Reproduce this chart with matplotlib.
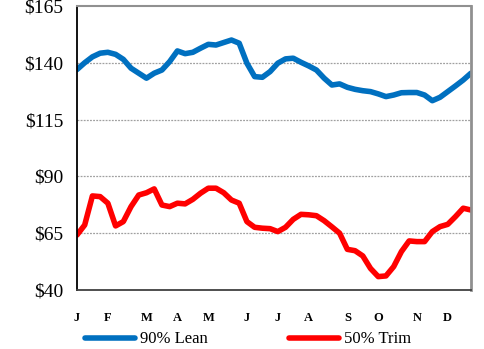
import matplotlib
matplotlib.use("Agg")
import matplotlib.pyplot as plt
import numpy as np

# weekly prices, 52 weeks
lean_90 = [137.0, 140.0, 142.6, 144.2, 144.6, 143.7, 141.5, 137.6, 135.4, 133.2,
           135.4, 136.8, 140.5, 145.2, 144.0, 144.6, 146.4, 148.1, 147.8, 148.9,
           150.0, 148.6, 139.8, 133.9, 133.6, 136.1, 139.8, 141.7, 142.0, 140.2,
           138.6, 136.8, 133.2, 130.2, 130.7, 129.2, 128.3, 127.7, 127.3, 126.3,
           125.1, 125.8, 126.8, 126.9, 126.9, 125.8, 123.3, 124.8, 127.3, 129.8,
           132.4, 135.4]
trim_50 = [64.2, 68.6, 81.4, 81.1, 78.2, 68.2, 70.1, 76.7, 81.8, 82.8,
           84.5, 77.4, 76.7, 78.2, 77.9, 79.9, 82.6, 84.8, 84.8, 82.8,
           79.6, 78.2, 70.1, 67.6, 67.2, 67.0, 65.7, 67.6, 71.1, 73.3,
           73.1, 72.7, 70.5, 67.8, 65.0, 57.9, 57.3, 55.0, 49.5, 45.9,
           46.2, 50.3, 56.9, 61.6, 61.3, 61.3, 65.7, 67.9, 68.9, 72.3,
           76.0, 75.2]
month_labels = ["J", "F", "M", "A", "M", "J", "J", "A", "S", "O", "N", "D"]
month_weeks = [0, 4, 9, 13, 17, 22, 26, 30, 35, 39, 44, 48]
y_ticks = [40, 65, 90, 115, 140, 165]

plt.rcParams['font.family'] = ['Liberation Serif', 'DejaVu Serif']

fig = plt.figure(figsize=(4.84, 3.49), dpi=100)
ax = fig.add_axes([0.159, 0.169, 0.814, 0.814])

weeks = np.arange(len(lean_90))
ax.plot(weeks, lean_90, color='#0070C0', lw=4, solid_capstyle='round',
        solid_joinstyle='round', label='90% Lean')
ax.plot(weeks, trim_50, color='#FF0000', lw=4, solid_capstyle='round',
        solid_joinstyle='round', label='50% Trim')

ax.set_xlim(0, len(lean_90) - 1)
ax.set_ylim(40, 165)
ax.set_yticks(y_ticks)
ax.set_yticklabels(['$%d' % v for v in y_ticks], fontsize=14)
ax.set_xticks(month_weeks)
ax.set_xticklabels(month_labels, fontsize=9, fontweight='bold')
ax.tick_params(axis='both', length=0)
ax.tick_params(axis='y', pad=10)
ax.tick_params(axis='x', pad=16)

for v in y_ticks[1:-1]:
    ax.axhline(v, color='#a0a0a0', lw=0.9, ls=(0, (1.5, 1)), zorder=0)

ax.spines['left'].set_color('black')
ax.spines['left'].set_linewidth(1.3)
ax.spines['bottom'].set_color('#404040')
ax.spines['bottom'].set_linewidth(1.3)
ax.spines['top'].set_color('#909090')
ax.spines['top'].set_linewidth(1.5)
ax.spines['right'].set_color('#909090')
ax.spines['right'].set_linewidth(2)

fig.legend(loc='lower left', bbox_to_anchor=(0.172, 0.0), ncol=2, frameon=False,
           fontsize=12, handlelength=3.0, columnspacing=4.9, handletextpad=0.3,
           borderpad=0.1, borderaxespad=0)

fig.savefig('out.png', dpi=100)
